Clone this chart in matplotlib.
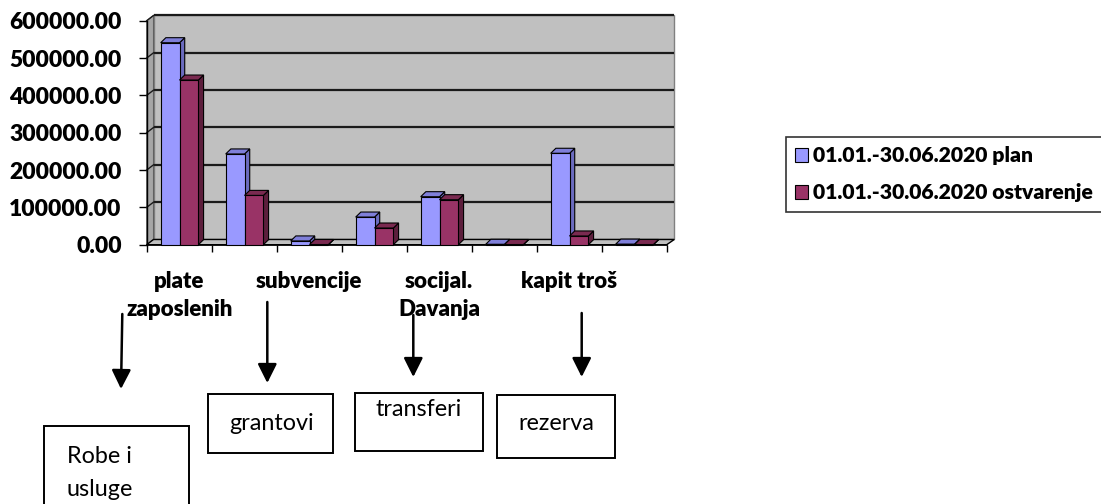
import numpy as np
import matplotlib
matplotlib.use('Agg')
import matplotlib.pyplot as plt
from matplotlib.patches import Polygon, Rectangle

plt.rcParams['font.family'] = ['Lato', 'DejaVu Sans']

# data
categories = ['plate\nzaposlenih', 'Robe i usluge', 'subvencije', 'grantovi',
              'socijal.\nDavanja', 'transferi', 'kapit troš', 'rezerva']
plan = [541000, 243000, 10000, 74000, 128500, 1000, 244800, 1500]
ostvarenje = [441000, 132000, 500, 44600, 120500, 500, 23300, 500]
series_names = ['01.01.-30.06.2020 plan', '01.01.-30.06.2020 ostvarenje']
y_ticks = [0, 100000, 200000, 300000, 400000, 500000, 600000]
notes = ['Robe i\nusluge', 'grantovi', 'transferi', 'rezerva']

W, H = 1101, 504
fig = plt.figure(figsize=(W / 100, H / 100), dpi=100)
ax = fig.add_axes([146.7 / W, 1 - 244.7 / H, 520 / W, 224 / H])

n = len(categories)
ymax = y_ticks[-1]
ax.set_xlim(0, n)
ax.set_ylim(0, ymax)
for s in ax.spines.values():
    s.set_visible(False)
ax.patch.set_visible(False)

# 3d box: back wall, left wall, floor
wdx, wdy = 0.105, 14000
ax.add_patch(Rectangle((wdx, wdy), n + 0.012, ymax, facecolor='#c0c0c0',
                       edgecolor='#808080', lw=1, clip_on=False, zorder=0))
ax.add_patch(Polygon([(0, 0), (wdx, wdy), (wdx, ymax + wdy), (0, ymax)],
                     facecolor='#a6a6a6', edgecolor='#606060', lw=0.8, clip_on=False, zorder=1))
ax.add_patch(Polygon([(0, 0), (n, 0), (n + wdx + 0.012, wdy), (wdx, wdy)],
                     facecolor='#c0c0c0', edgecolor='black', lw=1, clip_on=False, zorder=1))
for v in y_ticks[1:]:
    ax.plot([wdx, n + wdx + 0.012], [v + wdy, v + wdy], color='#1a1a1a', lw=1.6,
            clip_on=False, zorder=2, solid_capstyle='butt')
    ax.plot([0, wdx], [v, v + wdy], color='#1a1a1a', lw=1, clip_on=False, zorder=2)
ax.plot([0, 0], [0, ymax], color='black', lw=1, clip_on=False, zorder=2)
ax.plot([0, n], [0, 0], color='black', lw=1.2, clip_on=False, zorder=2)

# bars with fake depth
bw, bdx, bdy = 0.29, 0.08, 13500
styles = [('#9999ff', '#7f7fd9', '#6b6bbf'), ('#993366', '#7a2a50', '#5c1e3c')]
x = np.arange(n) + 0.5
handles = []
z = 3
for i in range(n):
    for k, vals in enumerate([plan, ostvarenje]):
        front, top, side = styles[k]
        x0 = x[i] - 0.285 + k * bw
        x1 = x0 + bw
        h = vals[i]
        ax.add_patch(Polygon([(x1, 0), (x1 + bdx, bdy), (x1 + bdx, h + bdy), (x1, h)],
                             facecolor=side, edgecolor='black', lw=0.8, clip_on=False, zorder=z))
        ax.add_patch(Polygon([(x0, h), (x1, h), (x1 + bdx, h + bdy), (x0 + bdx, h + bdy)],
                             facecolor=top, edgecolor='black', lw=0.8, clip_on=False, zorder=z))
        b = ax.bar(x0, h, width=bw, align='edge', color=front, edgecolor='black',
                   lw=0.8, zorder=z + 0.5, clip_on=False, label=series_names[k])
        if i == 0:
            handles.append(b)
        z += 1

# axes ticks
ax.set_yticks(y_ticks)
ax.set_yticklabels(['%.2f' % v for v in y_ticks], fontsize=16.5, fontweight='heavy')
ax.tick_params(axis='y', length=6, width=1, pad=12)
ax.set_xticks(np.arange(n + 1))
ax.set_xticklabels([])
ax.tick_params(axis='x', which='major', length=5, width=1)
ax.set_xticks(x, minor=True)
ax.set_xticklabels([c if i % 2 == 0 else '' for i, c in enumerate(categories)],
                   minor=True, fontsize=16, fontweight='heavy', va='top')
ax.tick_params(axis='x', which='minor', length=0, pad=19)
for t in ax.get_xticklabels(minor=True):
    t.set_linespacing(1.4)

leg = fig.legend(handles=handles, labels=series_names, loc='upper left',
                 bbox_to_anchor=(785.7 / W, 1 - 137 / H), borderaxespad=0,
                 prop={'size': 15.2, 'weight': 'heavy'}, frameon=True, fancybox=False,
                 handlelength=0.62, handleheight=0.62, handletextpad=0.2,
                 labelspacing=0.85, borderpad=0.45)
leg.get_frame().set_edgecolor('black')
leg.get_frame().set_linewidth(1.2)

# annotation layer in pixel units
ov = fig.add_axes([0, 0, 1, 1])
ov.set_xlim(0, W)
ov.set_ylim(H, 0)
ov.axis('off')
arrows = [((122.3, 314), (121, 389)), ((267.3, 302), (267.3, 383)),
          ((413.3, 315), (413.3, 377)), ((581.7, 313), (581.7, 377))]
for start, tip in arrows:
    ov.annotate('', xy=tip, xytext=start,
                arrowprops=dict(arrowstyle='-|>', color='black', lw=1.8,
                                mutation_scale=29, shrinkA=0, shrinkB=0))
boxes = [(44.3, 425.7, 144.7, 100), (208.3, 394.3, 125, 59),
         (355, 392.7, 127.7, 58), (497.3, 395, 117.7, 62.7)]
text_pos = [(66.7, 473, 'center'), (229, 423, 'center'), (375, 410, 'center'), (518, 423, 'center')]
for (bx, by, bwid, bh), (tx, ty, va), label in zip(boxes, text_pos, notes):
    ov.add_patch(Rectangle((bx, by), bwid, bh, facecolor='white', edgecolor='black', lw=1.4))
    ov.text(tx, ty, label, fontsize=16.8, ha='left', va=va, linespacing=1.7)

fig.savefig('out.png', dpi=100)
